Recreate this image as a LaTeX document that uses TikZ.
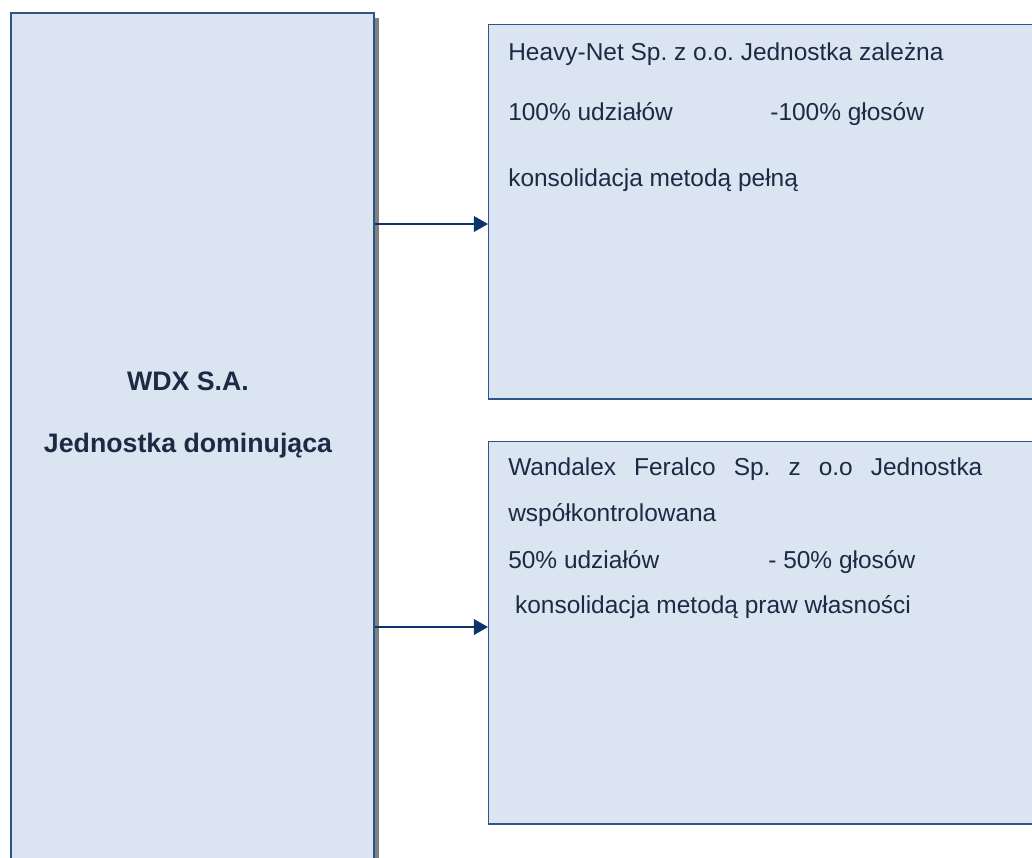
\documentclass[tikz,border=0pt]{standalone}
\usepackage{fontspec}
\setmainfont{Liberation Sans}
\usepackage{tikz}
\usetikzlibrary{positioning, arrows.meta, shadows}
\usepackage{xcolor}
\frenchspacing

\definecolor{boxfill}{HTML}{DBE5F1}
\definecolor{boxline}{HTML}{2E548A}
\definecolor{arrowblue}{HTML}{0B3468}
\definecolor{textnavy}{HTML}{1C2A44}

\begin{document}
\begin{tikzpicture}[x=0.025cm, y=-0.025cm,
    box/.style={draw=boxline, fill=boxfill, inner sep=0pt, anchor=north west},
    txt/.style={anchor=base west, inner sep=0pt, text=textnavy,
        font=\fontsize{17.4}{20}\selectfont},
    bold/.style={txt, anchor=base, font=\bfseries\fontsize{19}{22}\selectfont},
    link/.style={-{Triangle[length=10pt, width=11pt]}, arrowblue, line width=1.4pt}]
    \useasboundingbox (0,0) rectangle (1032,857);
    \clip (0,0) rectangle (1032,857);

    % Parent company
    \node[box, line width=1.6pt, minimum width=9.075cm, minimum height=21.6cm,
        drop shadow={shadow xshift=0.125cm, shadow yshift=-0.125cm,
            fill=gray, opacity=1}] (parent) at (10,12) {};
    \node[bold] (pname) at (188,390) {WDX S.A.};
    \node[bold] (prole) at (188,452) {Jednostka dominująca};

    % Subsidiaries
    \node[box, line width=1pt, minimum width=14cm, minimum height=9.35cm]
        (heavy) at (488,24) {};
    \node[box, line width=1pt, minimum width=14cm, minimum height=9.55cm]
        (wandalex) at (488,441) {};

    \node[txt] (h1) at (508,60) {Heavy-Net Sp. z o.o. Jednostka zależna};
    \node[txt] (h2) at (508,120) {\makebox[6.55cm][l]{100\% udziałów}-100\% głosów};
    \node[txt] (h3) at (508,186) {konsolidacja metodą pełną};

    \node[txt] (w1) at (508,475)
        {\makebox[11.85cm][s]{Wandalex Feralco Sp. z o.o Jednostka}};
    \node[txt] (w2) at (508,521) {współkontrolowana};
    \node[txt] (w3) at (508,568) {\makebox[6.5cm][l]{50\% udziałów}- 50\% głosów};
    \node[txt] (w4) at (508,613) {\ konsolidacja metodą praw własności};

    % Connectors
    \coordinate (c1) at (488,224);
    \coordinate (c2) at (488,627);
    \draw[link] (parent.east |- c1) -- (heavy.west |- c1);
    \draw[link] (parent.east |- c2) -- (wandalex.west |- c2);
\end{tikzpicture}
\end{document}
